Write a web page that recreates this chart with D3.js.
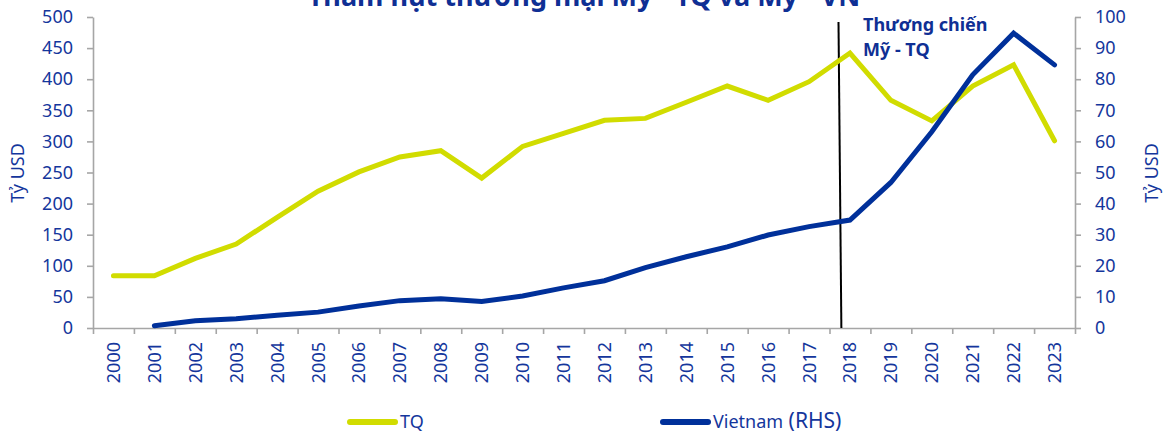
<!DOCTYPE html>
<html>
<head>
<meta charset="utf-8">
<script src="https://cdn.jsdelivr.net/npm/d3@7"></script>
<style>
  body { margin: 0; background: #fff; }
  text { font-family: "Noto Sans", sans-serif; }
</style>
</head>
<body>
<script>
// kich thuoc
var width = 1169;
var height = 437;

// du lieu
var years = ['2000','2001','2002','2003','2004','2005','2006','2007','2008','2009','2010','2011',
             '2012','2013','2014','2015','2016','2017','2018','2019','2020','2021','2022','2023'];
var tqValues = [84, 84, 112, 135, 178, 220, 251, 275, 285, 241, 292, 313,
                334, 337, 363, 389, 366, 396, 442, 366, 333, 389, 423, 301];
var vnValues = [null, 0.7, 2.3, 3.0, 4.1, 5.1, 7.1, 8.8, 9.4, 8.5, 10.3, 12.9,
                15.2, 19.4, 22.9, 26.1, 29.9, 32.6, 34.7, 46.8, 63.1, 81.4, 94.8, 84.6];
var leftTicks = [0, 50, 100, 150, 200, 250, 300, 350, 400, 450, 500];
var rightTicks = [0, 10, 20, 30, 40, 50, 60, 70, 80, 90, 100];
var seriesNames = ['TQ', 'Vietnam'];

var titleText = 'Thâm hụt thương mại Mỹ - TQ và Mỹ - VN';
var noteLines = ['Thương chiến', 'Mỹ - TQ'];

var yellow = '#d1dc00';
var navy = '#00309a';
var textColor = '#14369c';
var axisColor = '#a6a6a6';

var padding = { top: 17, right: 94, bottom: 109, left: 93 };

var svg = d3.select('body')
  .append('svg')
  .attr('width', width)
  .attr('height', height);

var xScale = d3.scaleBand()
  .domain(years)
  .range([padding.left, width - padding.right])
  .padding(0);

var xEdge = d3.scaleLinear()
  .domain([0, years.length])
  .range([padding.left, width - padding.right]);

var yLeft = d3.scaleLinear()
  .domain([0, 500])
  .range([height - padding.bottom, padding.top]);

var yRight = d3.scaleLinear()
  .domain([0, 100])
  .range([height - padding.bottom, padding.top]);

var baseY = height - padding.bottom;

// truc x: vach o ranh gioi cac nam
svg.append('g')
  .attr('class', 'xedge')
  .attr('transform', 'translate(0,' + baseY + ')')
  .call(d3.axisBottom(xEdge).tickValues(d3.range(0, years.length + 1)).tickSize(6).tickSizeOuter(0).tickFormat(''));

// nhan nam xoay doc
svg.append('g')
  .attr('class', 'xaxis')
  .attr('transform', 'translate(0,' + baseY + ')')
  .call(d3.axisBottom(xScale).tickSize(0))
  .call(function (g) { g.select('.domain').remove(); })
  .selectAll('text')
  .attr('x', 0)
  .attr('y', 0)
  .attr('dy', '0.36em')
  .attr('transform', 'translate(0,14) rotate(-90)')
  .attr('text-anchor', 'end');

svg.append('g')
  .attr('class', 'yaxis')
  .attr('transform', 'translate(' + padding.left + ',0)')
  .call(d3.axisLeft(yLeft).tickValues(leftTicks).tickSize(6).tickSizeOuter(0).tickPadding(14));

svg.append('g')
  .attr('class', 'yaxis2')
  .attr('transform', 'translate(' + (width - padding.right) + ',0)')
  .call(d3.axisRight(yRight).tickValues(rightTicks).tickSize(6).tickSizeOuter(0).tickPadding(14));

svg.selectAll('.xedge path, .xedge line, .yaxis path, .yaxis line, .yaxis2 path, .yaxis2 line')
  .attr('stroke', axisColor)
  .attr('stroke-width', 1.6);

svg.selectAll('.xaxis text, .yaxis text, .yaxis2 text')
  .attr('fill', textColor)
  .style('font-size', '18px')
  .style('font-family', '"Noto Sans", sans-serif');

// ten truc
svg.append('text')
  .attr('transform', 'translate(24,' + 173 + ') rotate(-90)')
  .attr('text-anchor', 'middle')
  .attr('fill', textColor)
  .style('font-size', '18px')
  .text('Tỷ USD');

svg.append('text')
  .attr('transform', 'translate(1158,' + 173 + ') rotate(-90)')
  .attr('text-anchor', 'middle')
  .attr('fill', textColor)
  .style('font-size', '18px')
  .text('Tỷ USD');

// tieu de (bi cat o mep tren giong ban goc)
svg.append('text')
  .attr('x', 584)
  .attr('y', 6)
  .attr('text-anchor', 'middle')
  .attr('fill', '#0f2f94')
  .style('font-size', '27px')
  .style('font-weight', 'bold')
  .text(titleText);

// duong thuong chien
svg.append('line')
  .attr('x1', xEdge(18.22))
  .attr('y1', yLeft(492))
  .attr('x2', xEdge(18.29))
  .attr('y2', yLeft(0))
  .attr('stroke', '#000')
  .attr('stroke-width', 2);

svg.append('g')
  .selectAll('text')
  .data(noteLines)
  .enter()
  .append('text')
  .attr('x', 863)
  .attr('y', function (d, i) { return 31 + i * 25; })
  .attr('fill', '#0f2f94')
  .style('font-size', '18px')
  .style('font-weight', 'bold')
  .text(function (d) { return d; });

var lineTQ = d3.line()
  .x(function (d, i) { return xScale(years[i]) + xScale.bandwidth() / 2; })
  .y(function (d) { return yLeft(d); });

var lineVN = d3.line()
  .defined(function (d) { return d != null; })
  .x(function (d, i) { return xScale(years[i]) + xScale.bandwidth() / 2; })
  .y(function (d) { return yRight(d); });

svg.append('path')
  .attr('class', 'line-tq')
  .attr('fill', 'none')
  .attr('stroke', yellow)
  .attr('stroke-width', 5)
  .attr('stroke-linecap', 'round')
  .attr('d', lineTQ(tqValues));

svg.append('path')
  .attr('class', 'line-vn')
  .attr('fill', 'none')
  .attr('stroke', navy)
  .attr('stroke-width', 5)
  .attr('stroke-linecap', 'round')
  .attr('d', lineVN(vnValues));

// chu giai
var legend = [
  { name: seriesNames[0], color: yellow, x: 350 },
  { name: seriesNames[1], color: navy, x: 663 }
];
var lg = svg.append('g')
  .selectAll('g')
  .data(legend)
  .enter()
  .append('g')
  .attr('transform', function (d) { return 'translate(' + d.x + ',422)'; });

lg.append('line')
  .attr('x1', 0)
  .attr('x2', 45)
  .attr('stroke', function (d) { return d.color; })
  .attr('stroke-width', 6)
  .attr('stroke-linecap', 'round');

var lt = lg.append('text')
  .attr('x', 50)
  .attr('dy', '0.36em')
  .attr('fill', textColor)
  .style('font-size', '18px');
lt.append('tspan').text(function (d) { return d.name; });
lt.filter(function (d, i) { return i === 1; })
  .append('tspan')
  .style('font-size', '21px')
  .text(' (RHS)');
</script>
</body>
</html>
